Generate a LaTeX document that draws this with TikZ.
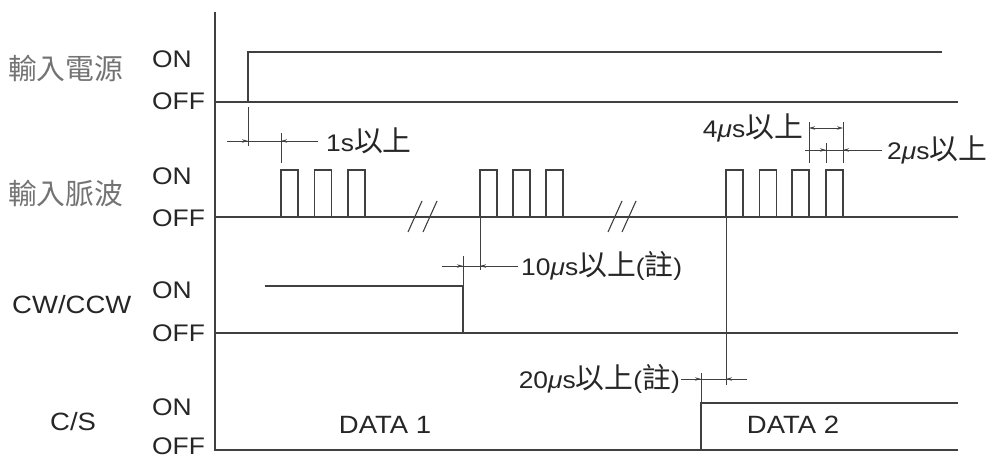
\documentclass[tikz,border=0pt]{standalone}
\usepackage{fontspec}
\setmainfont{Liberation Sans}[FakeStretch=1.1]
\newfontfamily\cjk{Noto Sans CJK TC}[Scale=1.2]
\usetikzlibrary{arrows.meta}

\begin{document}
\begin{tikzpicture}[x=1pt, y=-1pt, >={Stealth[length=6pt,width=3.5pt]},
  sig/.style={draw=black!75, line width=1.6pt},
  dim/.style={draw=black!75, line width=0.8pt},
  lbl/.style={font=\fontsize{24}{26}\selectfont, text=black!85, inner sep=0pt},
  sname/.style={font=\cjk\fontsize{24}{26}\selectfont, text=black!55, inner sep=0pt},
  pulse/.pic={\draw[sig] (0,0) -- (0,-47) -- (17,-47) -- (17,0);}]
\useasboundingbox (0,0) rectangle (995,460);

% signal names and levels
\node[sname, anchor=west] (pwr) at (8,68) {輸入電源};
\node[sname, anchor=west] (pls) at (8,193) {輸入脈波};
\node[lbl, anchor=west, font=\fontsize{25}{26}\selectfont] (cw) at (12,305) {CW/CCW};
\node[lbl, anchor=west, font=\fontsize{25}{26}\selectfont] (cs) at (50,422) {C/S};
\foreach \y/\n in {59/pwr, 176/pls, 290/cw, 407/cs}
  \node[lbl, anchor=west] (\n on) at (152,\y) {ON};
\foreach \y/\n in {101/pwr, 218/pls, 333/cw, 446/cs}
  \node[lbl, anchor=west] (\n off) at (152,\y) {OFF};

% axis and waveforms
\draw[sig] (215,12) -- (215,450) -- (958,450);
\draw[sig] (215,102) -- (958,102);
\draw[sig] (248,102) -- (248,52) -- (942,52);
\draw[sig] (215,217) -- (958,217);
\foreach \x in {281,314.5,348,480,513,546,726,759.5,792,826}
  \pic at (\x,217) {pulse};
\draw[sig] (215,333) -- (958,333);
\draw[sig] (265,286) -- (463,286) -- (463,333);
\draw[sig] (701,450) -- (701,403) -- (958,403);
\node[lbl, font=\fontsize{25}{26}\selectfont] (d1) at (385,425) {DATA 1};
\node[lbl, font=\fontsize{25}{26}\selectfont] (d2) at (793,425) {DATA 2};

% break marks
\foreach \x in {408,423,608,622}
  \draw[dim, line width=1.1pt] (\x,232) -- ++(14,-31);

% 1s
\draw[dim] (248,107) -- (248,146);
\draw[dim] (281,133) -- (281,163);
\draw[dim] (227,141) -- (318,141);
\draw[dim, ->] (233,141) -- (248,141);
\draw[dim, ->] (296,141) -- (281,141);
\node[lbl, anchor=west] (t1) at (326,141) {1s{\cjk 以上}};

% 4us and 2us
\draw[dim] (809,122) -- (809,163);
\draw[dim] (843,122) -- (843,163);
\draw[dim, <->] (809,128) -- (843,128);
\node[lbl, anchor=east] (t4) at (803,128) {4\textit{μ}s{\cjk 以上}};
\draw[dim] (826,143) -- (826,163);
\draw[dim] (805,150) -- (882,150);
\draw[dim, ->] (811,150) -- (826,150);
\draw[dim, ->] (858,150) -- (843,150);
\node[lbl, anchor=west] (t2) at (887,150) {2\textit{μ}s{\cjk 以上}};

% 10us
\draw[dim] (480,217) -- (480,270);
\draw[dim] (463,256) -- (463,286);
\draw[dim] (442,266) -- (518,266);
\draw[dim, ->] (448,266) -- (463,266);
\draw[dim, ->] (495,266) -- (480,266);
\node[lbl, anchor=west] (t10) at (521,266) {10\textit{μ}s{\cjk 以上}({\cjk 註})};

% 20us
\draw[dim] (726,217) -- (726,385);
\draw[dim] (701,373) -- (701,403);
\draw[dim] (681,379) -- (747,379);
\draw[dim, ->] (686,379) -- (701,379);
\draw[dim, ->] (741,379) -- (726,379);
\node[lbl, anchor=east] (t20) at (680,379) {20\textit{μ}s{\cjk 以上}({\cjk 註})};
\end{tikzpicture}
\end{document}
